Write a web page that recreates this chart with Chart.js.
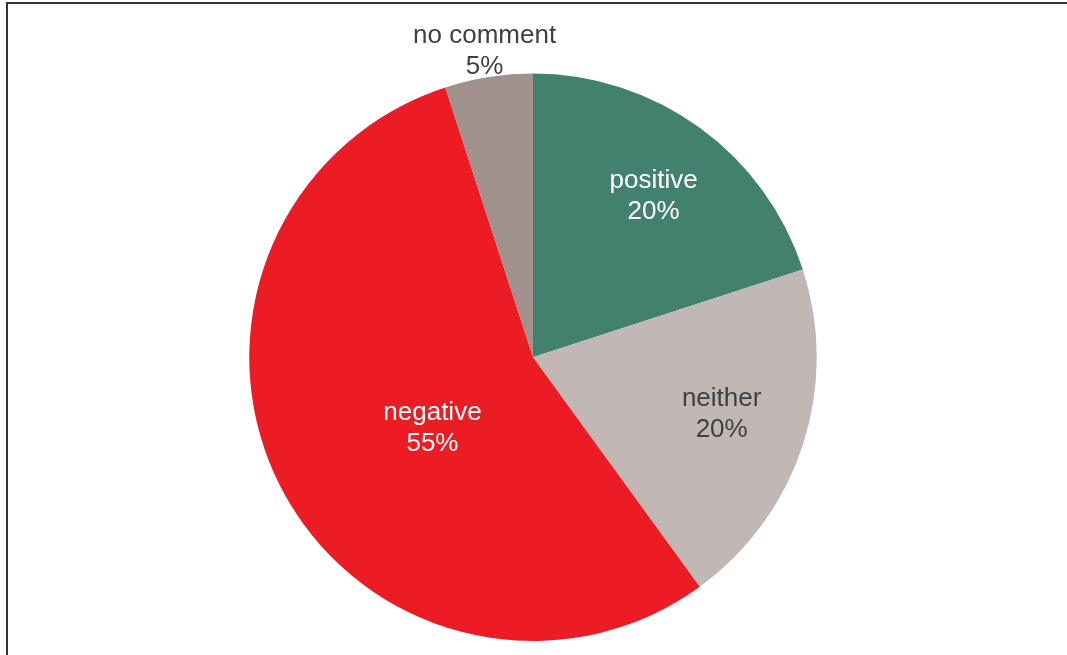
<!DOCTYPE html>
<html>
<head>
<meta charset="utf-8">
<script src="https://cdn.jsdelivr.net/npm/chart.js@4/dist/chart.umd.min.js"></script>
<style>
  html, body { margin: 0; padding: 0; background: #fff; }
  #wrap { position: relative; width: 1067px; height: 655px; overflow: hidden; }
  #frame {
    position: absolute; left: 6px; top: 2px; width: 1100px; height: 700px;
    border-left: 2px solid #333; border-top: 2px solid #333;
  }
  canvas { position: absolute; left: 0; top: 0; }
</style>
</head>
<body>
<div id="wrap">
  <div id="frame"></div>
  <canvas id="chart" width="1067" height="655"></canvas>
</div>
<script>
// Survey responses, clockwise from 12 o'clock
const categories = ['positive', 'neither', 'negative', 'no comment'];
const shares = [20, 20, 55, 5];
const sliceColors = ['#43816f', '#c1b8b5', '#ec1c24', '#a0918c'];
const labelColors = ['#ffffff', '#404040', '#ffffff', '#404040'];

// label placement: [angle from top in degrees, distance as fraction of radius]
const labelSpots = [[36.3, 0.718], [106.1, 0.692], [235.9, 0.428], [351.1, 1.103]];

const sliceLabels = {
  id: 'sliceLabels',
  afterDatasetsDraw(chart) {
    const { ctx } = chart;
    const arcs = chart.getDatasetMeta(0).data;
    ctx.save();
    ctx.font = '26px "Liberation Sans", Arial, sans-serif';
    ctx.textAlign = 'center';
    ctx.textBaseline = 'middle';
    arcs.forEach((arc, i) => {
      const [deg, frac] = labelSpots[i];
      const a = deg * Math.PI / 180;
      const r = arc.outerRadius * frac;
      const x = arc.x + r * Math.sin(a);
      const y = arc.y - r * Math.cos(a) + 3;
      ctx.fillStyle = labelColors[i];
      ctx.fillText(categories[i], x, y - 15.5);
      ctx.fillText(shares[i] + '%', x, y + 15.5);
    });
    ctx.restore();
  }
};

new Chart(document.getElementById('chart'), {
  type: 'pie',
  data: {
    labels: categories,
    datasets: [{
      data: shares,
      backgroundColor: sliceColors,
      borderWidth: 0
    }]
  },
  options: {
    responsive: false,
    animation: false,
    layout: { padding: { top: 73.5, bottom: 14, left: 0, right: 1 } },
    plugins: {
      legend: { display: false },
      tooltip: { enabled: false }
    }
  },
  plugins: [sliceLabels]
});
</script>
</body>
</html>
